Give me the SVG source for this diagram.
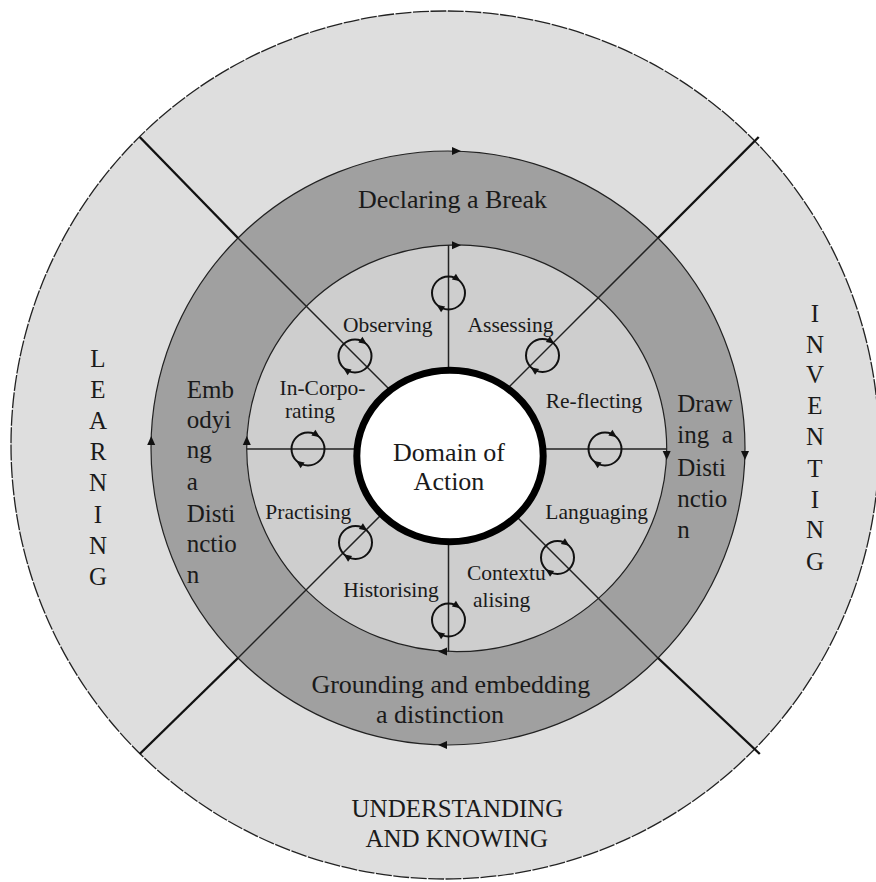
<svg xmlns="http://www.w3.org/2000/svg" width="876" height="882" viewBox="0 0 876 882">
<defs>
<style>
.t{font-family:"Liberation Serif","Times New Roman",serif;fill:#1a1a1a}
.big{font-size:26px}
.mid{font-size:25px}
.sm{font-size:21.5px}
.ring{stroke:#222;stroke-width:1.2}
.dg{stroke:#111;stroke-width:2.4;fill:none}
.sp{stroke:#222;stroke-width:1.5;fill:none}
.loop{stroke:#111;stroke-width:2;fill:none}
</style>
<path id="ah" d="M0,0 L-9,-4 L-9,4 Z" fill="#111"/>
<path id="lah" d="M3,0 L-5,-3.5 L-5,3.5 Z" fill="#111"/>
<g id="loop">
<circle class="loop" cx="0" cy="0" r="16.5"/>
<use href="#lah" transform="translate(9.5,-13.5) rotate(35)"/>
<use href="#lah" transform="translate(-9.5,13.5) rotate(215)"/>
</g>
</defs>
<rect width="876" height="882" fill="#fff"/>
<g id="outer-ring">
<circle cx="445" cy="445" r="434" fill="#dedede" stroke="#222" stroke-width="1.3" stroke-dasharray="16 1.5"/>
</g>
<g id="middle-ring">
<circle class="ring" cx="448" cy="448" r="297" fill="#a0a0a0"/>
</g>
<g id="inner-ring">
<ellipse class="ring" cx="456.7" cy="448.3" rx="210" ry="203.4" fill="#cecece"/>
</g>
<g id="connectors">
<line class="dg" x1="139.7" y1="137" x2="238" y2="238"/>
<line class="dg" x1="758.7" y1="137" x2="658" y2="238"/>
<line class="dg" x1="139.7" y1="754" x2="238" y2="658"/>
<line class="dg" x1="759.8" y1="754" x2="658" y2="658"/>
<line class="sp" x1="238" y1="238" x2="448" y2="448"/>
<line class="sp" x1="658" y1="238" x2="448" y2="448"/>
<line class="sp" x1="238" y1="658" x2="448" y2="448"/>
<line class="sp" x1="658" y1="658" x2="448" y2="448"/>
<line class="sp" x1="448.5" y1="245" x2="448.5" y2="651.7"/>
<line class="sp" x1="246.7" y1="449" x2="666.7" y2="449"/>
<use href="#ah" transform="translate(461,151)"/>
<use href="#ah" transform="translate(745,460) rotate(90)"/>
<use href="#ah" transform="translate(438,745) rotate(180)"/>
<use href="#ah" transform="translate(151.2,436) rotate(-90)"/>
<use href="#ah" transform="translate(461,245.2)"/>
<use href="#ah" transform="translate(666.7,460) rotate(90)"/>
<use href="#ah" transform="translate(438,651.6) rotate(180)"/>
<use href="#ah" transform="translate(246.8,436) rotate(-90)"/>
<use href="#loop" x="448.5" y="293"/>
<use href="#loop" x="542.5" y="355.5"/>
<use href="#loop" x="605" y="449"/>
<use href="#loop" x="557.5" y="557.5"/>
<use href="#loop" x="448.5" y="620"/>
<use href="#loop" x="355.5" y="542.5"/>
<use href="#loop" x="308" y="449"/>
<use href="#loop" x="355" y="356"/>
</g>
<g id="domain-of-action">
<ellipse cx="450" cy="456" rx="93.2" ry="85.7" fill="#fff" stroke="#000" stroke-width="7"/>
<text class="t big" x="449" y="461" text-anchor="middle">Domain of</text>
<text class="t big" x="449" y="490" text-anchor="middle">Action</text>
</g>
<g id="declaring-a-break">
<text class="t big" x="452.5" y="208" text-anchor="middle">Declaring a Break</text>
</g>
<g id="drawing-a-distinction">
<text class="t mid" x="677.3" y="411.7">Draw</text>
<text class="t mid" x="677.3" y="443.3" xml:space="preserve">ing  a</text>
<text class="t mid" x="677.3" y="476">Disti</text>
<text class="t mid" x="677.3" y="506.7">nctio</text>
<text class="t mid" x="677.3" y="538.3">n</text>
</g>
<g id="grounding-and-embedding">
<text class="t big" x="450.8" y="693.3" text-anchor="middle">Grounding and embedding</text>
<text class="t big" x="440" y="723.3" text-anchor="middle">a distinction</text>
</g>
<g id="embodying-a-distinction">
<text class="t mid" x="186.7" y="398">Emb</text>
<text class="t mid" x="186.7" y="428">odyi</text>
<text class="t mid" x="186.7" y="458">ng</text>
<text class="t mid" x="186.7" y="490">a</text>
<text class="t mid" x="186.7" y="521.7">Disti</text>
<text class="t mid" x="186.7" y="551.7">nctio</text>
<text class="t mid" x="186.7" y="583">n</text>
</g>
<g id="learning">
<text class="t mid" text-anchor="middle" x="98"><tspan x="98" y="366.7">L</tspan><tspan x="98" y="398">E</tspan><tspan x="98" y="429">A</tspan><tspan x="98" y="460">R</tspan><tspan x="98" y="490.5">N</tspan><tspan x="98" y="523">I</tspan><tspan x="98" y="553.5">N</tspan><tspan x="98" y="585">G</tspan></text>
</g>
<g id="inventing">
<text class="t mid" text-anchor="middle" x="815"><tspan x="815" y="322">I</tspan><tspan x="815" y="353.3">N</tspan><tspan x="815" y="383">V</tspan><tspan x="815" y="414">E</tspan><tspan x="815" y="445">N</tspan><tspan x="815" y="476.7">T</tspan><tspan x="815" y="508">I</tspan><tspan x="815" y="538">N</tspan><tspan x="815" y="570">G</tspan></text>
</g>
<g id="understanding-and-knowing">
<text class="t mid" x="457.5" y="816.7" text-anchor="middle">UNDERSTANDING</text>
<text class="t mid" x="456.7" y="846.7" text-anchor="middle">AND KNOWING</text>
</g>
<g id="observing"><text class="t sm" x="387.7" y="331.7" text-anchor="middle">Observing</text></g>
<g id="assessing"><text class="t sm" x="510.5" y="331.7" text-anchor="middle">Assessing</text></g>
<g id="in-corporating">
<text class="t sm" x="322.5" y="395" text-anchor="middle">In-Corpo-</text>
<text class="t sm" x="310" y="418" text-anchor="middle">rating</text>
</g>
<g id="re-flecting"><text class="t sm" x="594" y="408" text-anchor="middle">Re-flecting</text></g>
<g id="practising"><text class="t sm" x="308.3" y="519" text-anchor="middle">Practising</text></g>
<g id="languaging"><text class="t sm" x="596.7" y="519.3" text-anchor="middle">Languaging</text></g>
<g id="historising"><text class="t sm" x="391" y="596.7" text-anchor="middle">Historising</text></g>
<g id="contextualising">
<text class="t sm" x="467" y="580">Contextu</text>
<text class="t sm" x="473" y="606.7">alising</text>
</g>
</svg>
